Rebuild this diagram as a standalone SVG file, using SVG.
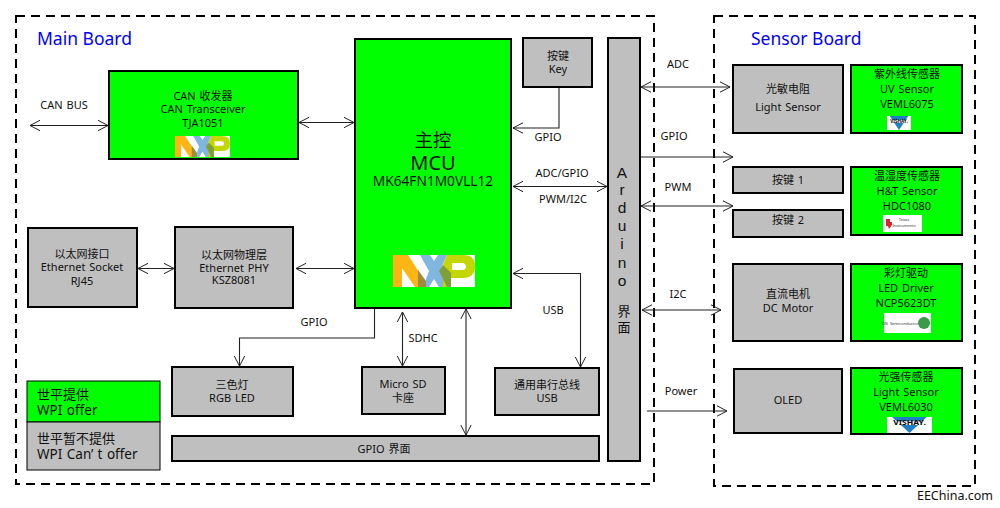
<svg xmlns="http://www.w3.org/2000/svg" width="1000" height="508" viewBox="0 0 1000 508">
<style>
text{font-family:"Noto Sans","Noto Sans CJK SC",sans-serif;font-size:11px;fill:#111;text-anchor:middle;word-spacing:1px}
.g{fill:#00ff00;stroke:#000;stroke-width:2}
.s{fill:#bfbfbf;stroke:#000;stroke-width:2}
.d{fill:none;stroke:#000;stroke-width:2;stroke-dasharray:9 6}
.c{fill:none;stroke:#222;stroke-width:1.1}
.a2{marker-start:url(#o);marker-end:url(#o)}
.a1{marker-end:url(#o)}
.t{font-size:17.500px;fill:#0000ff;text-anchor:start;word-spacing:0}
.l{font-size:13.500px;text-anchor:start}
.v{font-family:"Liberation Sans",sans-serif;font-size:15.500px}
.w{fill:#fff}
</style>
<defs>
<marker id="o" viewBox="0 0 11 12" refX="10.500" refY="6" markerWidth="11" markerHeight="12" markerUnits="userSpaceOnUse" orient="auto-start-reverse"><path d="M0.500 0.800L10.500 6L0.500 11.200" fill="none" stroke="#222" stroke-width="1"/></marker>
<symbol id="nxp" viewBox="0 0 82 32" preserveAspectRatio="none">
<rect width="82" height="32" fill="#fff"/>
<path d="M0 0H15L28 20L26 32H22L9 13V32H0Z" fill="#fdb515"/>
<path d="M25 15L33 26V32H25Z" fill="#a08a3c"/>
<path d="M27 0H37L41 6L45 0H54L47 16L54 32H46L41 24L36 32H33V24L36 16Z" fill="#7fb7e0"/>
<path fill-rule="evenodd" d="M54 0H70Q82 0 82 11Q82 23 70 23H58V32H50V10Z M59 8V15H69Q73 15 73 11.500Q73 8 69 8Z" fill="#c4d600"/>
<path d="M50 10L46 16L54 32H58V18Z" fill="#7f9f3a"/>
</symbol>
<symbol id="vishay" viewBox="0 0 44 15" preserveAspectRatio="none">
<rect width="44" height="15" fill="#fff"/>
<path d="M5 0H39L22 15Z" fill="#1f7fc4"/>
<rect x="5" y="4" width="34" height="3.500" fill="#fff"/>
<text x="22" y="7.500" style="font-size:6px;font-weight:700;fill:#000" textLength="32" lengthAdjust="spacingAndGlyphs">VISHAY.</text>
</symbol>
</defs>

<g id="frames">
<rect class="d" x="16" y="16" width="638" height="468"/>
<rect class="d" x="714" y="16" width="261" height="470"/>
<text class="t" x="37" y="45">Main Board</text>
<text class="t" x="751" y="45">Sensor Board</text>
</g>

<g id="can"><rect class="g" x="109" y="71" width="189" height="88"/>
<text x="203" y="100">CAN 收发器</text><text x="203" y="113">CAN Transceiver</text><text x="203" y="127">TJA1051</text>
<use href="#nxp" x="175" y="136" width="55" height="21"/></g>

<g id="mcu"><rect class="g" x="355" y="39" width="156" height="269"/>
<text x="433" y="147" style="font-size:18.500px">主控</text><text x="433" y="170" style="font-size:20px">MCU</text><text x="433" y="186" style="font-size:13.700px">MK64FN1M0VLL12</text>
<use href="#nxp" x="393" y="255" width="82" height="32"/></g>

<g id="key"><rect class="s" x="523" y="38" width="69" height="49"/>
<text x="558" y="60">按键</text><text x="558" y="73">Key</text></g>

<g id="arduino"><rect class="s" x="608" y="38" width="32" height="423"/>
<text class="v" x="622" y="178">A</text><text class="v" x="622" y="195">r</text><text class="v" x="622" y="212.500">d</text><text class="v" x="622" y="231">u</text><text class="v" x="622" y="249">i</text><text class="v" x="622" y="268">n</text><text class="v" x="622" y="286">o</text><text x="624" y="316" style="font-size:13px">界</text><text x="624" y="332" style="font-size:13px">面</text></g>

<g id="socket"><rect class="s" x="28" y="228" width="109" height="79"/>
<text x="82" y="258">以太网接口</text><text x="82" y="271">Ethernet Socket</text><text x="82" y="285">RJ45</text></g>

<g id="phy"><rect class="s" x="175" y="227" width="118" height="81"/>
<text x="234" y="259">以太网物理层</text><text x="234" y="272">Ethernet PHY</text><text x="234" y="284">KSZ8081</text></g>

<g id="rgb"><rect class="s" x="172" y="367" width="121" height="49"/>
<text x="232" y="389">三色灯</text><text x="232" y="402">RGB LED</text></g>

<g id="sd"><rect class="s" x="362" y="367" width="83" height="47"/>
<text x="403" y="388">Micro SD</text><text x="403" y="402">卡座</text></g>

<g id="usb"><rect class="s" x="495" y="368" width="104" height="47"/>
<text x="547" y="389">通用串行总线</text><text x="547" y="402">USB</text></g>

<g id="gpiobar"><rect class="s" x="172" y="436" width="427" height="25"/>
<text x="384" y="453">GPIO 界面</text></g>

<g id="legend">
<rect x="27" y="381" width="133" height="41" fill="#00ff00" stroke="#000"/>
<rect x="27" y="422" width="133" height="48" fill="#bfbfbf" stroke="#000"/>
<text class="l" x="37" y="399" style="font-size:13px">世平提供</text><text class="l" x="37" y="415">WPI offer</text>
<text class="l" x="37" y="443" style="font-size:13px">世平暂不提供</text><text class="l" x="37" y="459">WPI Can’<tspan dx="4">t offer</tspan></text></g>

<g id="light"><rect class="s" x="733" y="65" width="110" height="68"/>
<text x="788" y="93">光敏电阻</text><text x="788" y="111">Light Sensor</text></g>

<g id="uv"><rect class="g" x="851" y="65" width="111" height="68"/>
<text x="907" y="78">紫外线传感器</text><text x="907" y="93">UV Sensor</text><text x="907" y="108">VEML6075</text>
<use href="#vishay" x="887" y="116" width="24" height="14"/></g>

<g id="key1"><rect class="s" x="733" y="167" width="110" height="26"/><text x="788" y="184">按键 1</text></g>
<g id="key2"><rect class="s" x="733" y="210" width="110" height="27"/><text x="788" y="224">按键 2</text></g>

<g id="ht"><rect class="g" x="851" y="167" width="111" height="68"/>
<text x="907" y="180">温湿度传感器</text><text x="907" y="195">H&amp;T Sensor</text><text x="907" y="210">HDC1080</text>
<rect class="w" x="883" y="215" width="39" height="17"/>
<path d="M886 219H890V222H892V225L889 229L888 226H886Z" fill="#d9232e"/>
<text x="904" y="221" style="font-size:4px;fill:#333">Texas</text><text x="904" y="227" style="font-size:4px;fill:#333">Instruments</text></g>

<g id="dc"><rect class="s" x="733" y="264" width="110" height="77"/>
<text x="788" y="298">直流电机</text><text x="788" y="312">DC Motor</text></g>

<g id="led"><rect class="g" x="851" y="264" width="111" height="77"/>
<text x="906" y="277">彩灯驱动</text><text x="906" y="292">LED Driver</text><text x="906" y="307">NCP5623DT</text>
<rect class="w" x="884" y="313" width="47" height="20"/>
<text x="900" y="324.500" style="font-size:4px;fill:#333">ON Semiconductor</text>
<circle cx="924" cy="323" r="6" fill="#3a9a4a"/></g>

<g id="oled"><rect class="s" x="734" y="369" width="108" height="64"/><text x="788" y="404">OLED</text></g>

<g id="ls"><rect class="g" x="851" y="368" width="111" height="66"/>
<text x="906" y="381">光强传感器</text><text x="906" y="396">Light Sensor</text><text x="906" y="411">VEML6030</text>
<use href="#vishay" x="887" y="417" width="45" height="16"/></g>

<g id="connectors">
<path class="c a2" d="M30 125.500H108"/>
<path class="c a2" d="M299 122.500H354"/>
<path class="c a2" d="M138 268.500H174"/>
<path class="c a2" d="M296 268.500H354"/>
<path class="c a1" d="M559 88V128H513"/>
<path class="c a2" d="M513 186.500H607"/>
<path class="c a2" d="M641 87H730"/>
<path class="c a1" d="M641 157H733"/>
<path class="c a2" d="M641 206H733"/>
<path class="c a2" d="M642 310H721"/>
<path class="c a1" d="M647 411H727"/>
<path class="c a1" d="M374.500 309V338H239.500V366"/>
<path class="c a2" d="M402.500 312V366"/>
<path class="c a2" d="M466 309V435"/>
<path class="c a2" d="M513 273.500H580.500V367"/>
</g>

<g id="labels">
<text x="64" y="109">CAN BUS</text>
<text x="548" y="141">GPIO</text>
<text x="562" y="177">ADC/GPIO</text>
<text x="563" y="203">PWM/I2C</text>
<text x="678" y="68">ADC</text>
<text x="674" y="140">GPIO</text>
<text x="678" y="191">PWM</text>
<text x="678" y="298">I2C</text>
<text x="681" y="395">Power</text>
<text x="314" y="326">GPIO</text>
<text x="423" y="342">SDHC</text>
<text x="553" y="314">USB</text>
<text x="955" y="500" style="font-size:12.500px">EEChina.com</text>
</g>
</svg>
